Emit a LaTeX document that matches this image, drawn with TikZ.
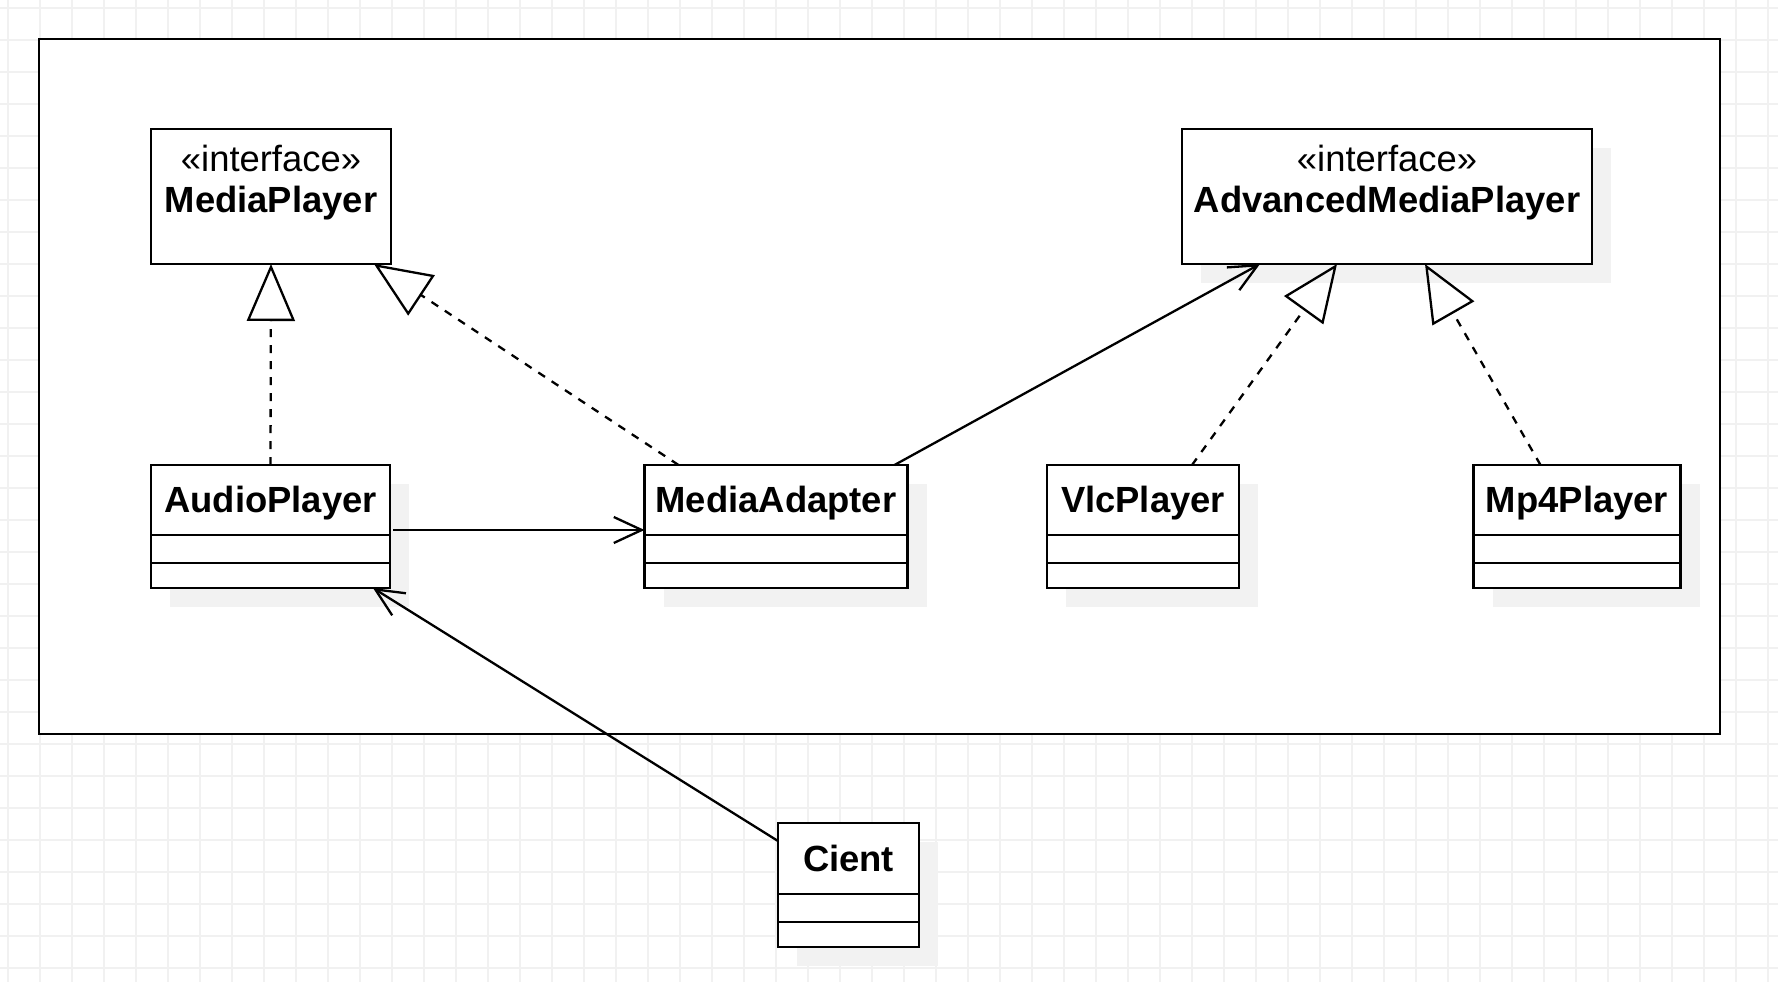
\documentclass[tikz,border=0pt]{standalone}
\usepackage{fontspec}
\setmainfont{Liberation Sans}
\usetikzlibrary{arrows.meta,positioning,shadows}
\definecolor{GridClr}{rgb}{0.945,0.945,0.945}
\definecolor{ShadowClr}{rgb}{0.95,0.95,0.95}
\newcommand\umlsize{\fontsize{36.4pt}{41pt}\selectfont}

\tikzset{
  umlline/.style={line width=2.3pt,draw=black},
  boxshadow/.style={drop shadow={shadow xshift=19pt,shadow yshift=-19pt,fill=ShadowClr,opacity=1}},
  ifacebox/.style={draw,line width=2.5pt,fill=white,outer sep=0pt,minimum height=135pt},
  stereotext/.style={anchor=base,align=center,inner sep=0pt},
  classhead/.style={draw,line width=2.5pt,fill=white,outer sep=0pt,inner sep=0pt,
    minimum height=70pt,text height=32.9pt,text depth=7.7pt,font=\umlsize\bfseries},
  classpart/.style={draw,line width=2.5pt,fill=white,outer sep=0pt,inner sep=0pt},
  realize/.style={umlline,dash pattern=on 8pt off 8pt,-{Triangle[open,length=57pt,width=48pt]}},
  assoc/.style={umlline,-{Straight Barb[length=28pt,width=26pt]}}
}

\begin{document}
\begin{tikzpicture}[x=1pt,y=-1pt,font=\umlsize]
\useasboundingbox (0,0) rectangle (1778,982);
\draw[GridClr,line width=1.2pt,step=32pt,shift={(8,8)}] (-8,-8) grid (1770,974);

% frame
\node[draw,line width=2.5pt,fill=white,minimum width=1681pt,minimum height=695pt] (frame) at (879.5,386.5) {};

% interfaces
\node[ifacebox,minimum width=240pt] (mplayer) at (271,196.5) {};
\node[stereotext] (mplayer-text) at ([yshift=-83pt]mplayer.north) {«interface»\\\textbf{MediaPlayer}};
\node[ifacebox,boxshadow,minimum width=410pt] (amp) at (1387,196.5) {};
\node[stereotext] (amp-text) at ([yshift=-83pt]amp.north) {«interface»\\\textbf{AdvancedMediaPlayer}};

% classes
\node[classhead,boxshadow,minimum width=239pt] (audio) at (270.5,500) {AudioPlayer};
\node[classpart,boxshadow,minimum width=239pt,minimum height=28pt,below=0pt of audio] (audio-attr) {};
\node[classpart,boxshadow,minimum width=239pt,minimum height=25pt,below=0pt of audio-attr] (audio-ops) {};

\node[classhead,boxshadow,minimum width=263pt] (adapter) at (776,500) {MediaAdapter};
\node[classpart,boxshadow,minimum width=263pt,minimum height=28pt,below=0pt of adapter] (adapter-attr) {};
\node[classpart,boxshadow,minimum width=263pt,minimum height=25pt,below=0pt of adapter-attr] (adapter-ops) {};

\node[classhead,boxshadow,minimum width=192pt] (vlc) at (1143,500) {VlcPlayer};
\node[classpart,boxshadow,minimum width=192pt,minimum height=28pt,below=0pt of vlc] (vlc-attr) {};
\node[classpart,boxshadow,minimum width=192pt,minimum height=25pt,below=0pt of vlc-attr] (vlc-ops) {};

\node[classhead,boxshadow,minimum width=207pt] (mp4) at (1577,500) {Mp4Player};
\node[classpart,boxshadow,minimum width=207pt,minimum height=28pt,below=0pt of mp4] (mp4-attr) {};
\node[classpart,boxshadow,minimum width=207pt,minimum height=25pt,below=0pt of mp4-attr] (mp4-ops) {};

\node[classhead,boxshadow,minimum width=141pt,minimum height=71pt] (cient) at (848.5,858.5) {Cient};
\node[classpart,boxshadow,minimum width=141pt,minimum height=28pt,below=0pt of cient] (cient-attr) {};
\node[classpart,boxshadow,minimum width=141pt,minimum height=25pt,below=0pt of cient-attr] (cient-ops) {};

% relations
\draw[realize] (audio.north) -- (mplayer.south);
\draw[realize] ([xshift=34pt]adapter.north west) -- ([xshift=-17pt]mplayer.south east);
\draw[assoc] ([xshift=-13pt]adapter.north east) -- ([xshift=78pt]amp.south west);
\draw[realize] ([xshift=-47pt]vlc.north east) -- ([xshift=155pt]amp.south west);
\draw[realize] ([xshift=67pt]mp4.north west) -- ([xshift=-167pt]amp.south east);
\draw[assoc] ([xshift=3pt,yshift=5pt]audio.south east) -- ([yshift=5pt]adapter.south west);
\draw[assoc] ([yshift=-18pt]cient.north west) -- ([xshift=-17pt]audio-ops.south east);

\end{tikzpicture}
\end{document}
